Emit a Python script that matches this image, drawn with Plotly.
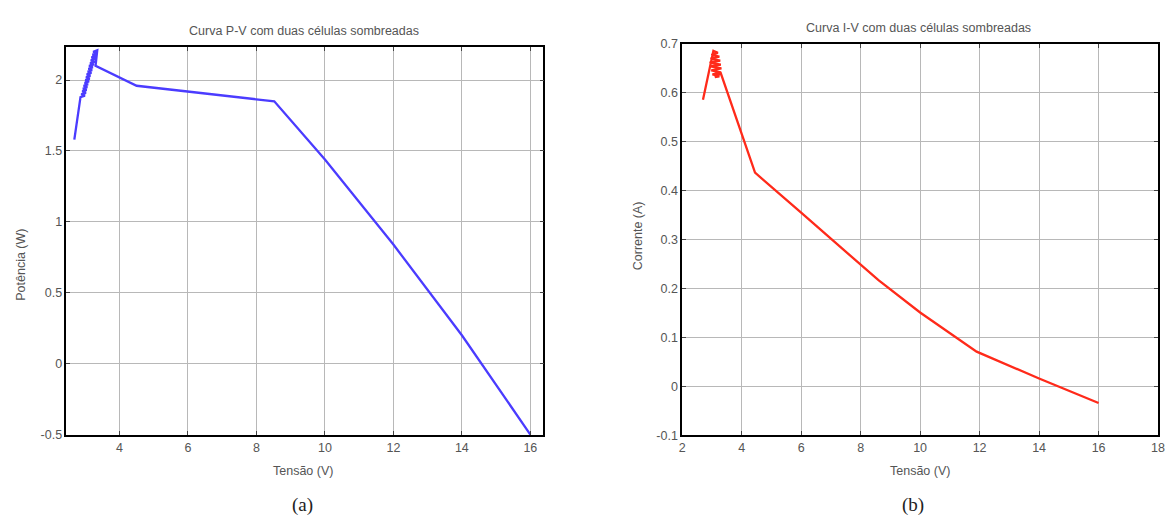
import plotly.graph_objects as go

# P-V curve (left)
pv_voltage = [2.68, 2.86, 2.99, 2.88, 3.02, 2.91, 3.04, 2.93, 3.06, 2.95, 3.08, 2.98, 3.11, 3.00, 3.13, 3.02, 3.15,
              3.04, 3.18, 3.07, 3.20, 3.09, 3.22, 3.11, 3.25, 3.14, 3.27, 3.16, 3.29, 3.18, 3.31, 3.21, 3.34, 3.23, 3.35, 3.30,
              4.50, 6.00, 8.52, 10.0, 12.0, 14.0, 16.0]
pv_power = [1.58, 1.88, 1.89, 1.90, 1.91, 1.92, 1.93, 1.94, 1.95, 1.96, 1.97, 1.98, 1.99, 2.00, 2.01, 2.02, 2.03,
            2.04, 2.05, 2.06, 2.07, 2.08, 2.09, 2.10, 2.11, 2.12, 2.13, 2.14, 2.15, 2.16, 2.17, 2.18, 2.19, 2.20, 2.21, 2.10,
            1.96, 1.92, 1.85, 1.44, 0.84, 0.20, -0.50]

# I-V curve (right)
iv_voltage = [2.70, 2.95, 3.05, 3.20, 2.98, 3.25, 2.95, 3.28, 2.92, 3.30, 2.95, 3.32, 2.98, 3.30, 3.02, 3.25, 3.10, 3.30,
              4.45, 6.00, 8.60, 10.0, 11.9, 14.0, 16.0]
iv_current = [0.586, 0.660, 0.686, 0.682, 0.678, 0.674, 0.670, 0.666, 0.662, 0.658, 0.654, 0.650, 0.646, 0.642, 0.638, 0.634, 0.632, 0.640,
              0.437, 0.355, 0.217, 0.151, 0.071, 0.016, -0.034]

pv_xticks = [4, 6, 8, 10, 12, 14, 16]
pv_yticks = [-0.5, 0, 0.5, 1, 1.5, 2]
pv_yticklabels = ["-0.5", "0", "0.5", "1", "1.5", "2"]
iv_xticks = [2, 4, 6, 8, 10, 12, 14, 16, 18]
iv_yticks = [-0.1, 0, 0.1, 0.2, 0.3, 0.4, 0.5, 0.6, 0.7]
iv_yticklabels = ["-0.1", "0", "0.1", "0.2", "0.3", "0.4", "0.5", "0.6", "0.7"]

W, H = 1173, 524
def px(x): return x / W
def py(y): return 1 - y / H

fig = go.Figure()
fig.add_trace(go.Scatter(x=pv_voltage, y=pv_power, mode="lines",
                         line=dict(color="#4b3cff", width=2.3), xaxis="x", yaxis="y", showlegend=False))
fig.add_trace(go.Scatter(x=iv_voltage, y=iv_current, mode="lines",
                         line=dict(color="#ff2a1a", width=2.3), xaxis="x2", yaxis="y2", showlegend=False))

tickfont = dict(family="Liberation Sans, Arial, sans-serif", size=12.5, color="#555555")
common = dict(showline=True, linecolor="black", linewidth=1.6, mirror="ticks", ticks="inside",
              ticklen=4, tickcolor="#444444", showgrid=True, gridcolor="#b8b8b8", gridwidth=1,
              zeroline=False, tickfont=tickfont)

fig.update_layout(
    width=W, height=H, margin=dict(l=0, r=0, t=0, b=0),
    paper_bgcolor="white", plot_bgcolor="white",
    xaxis=dict(domain=[px(64), px(545)], range=[2.45, 16.38], tickvals=pv_xticks, anchor="y", **common),
    yaxis=dict(domain=[py(440), py(41)], range=[-0.505, 2.234], tickvals=pv_yticks, ticktext=pv_yticklabels,
               anchor="x", **common),
    xaxis2=dict(domain=[px(685), px(1165)], range=[2, 18], tickvals=iv_xticks, anchor="y2", **common),
    yaxis2=dict(domain=[py(440), py(38)], range=[-0.1, 0.7], tickvals=iv_yticks, ticktext=iv_yticklabels,
                anchor="x2", **common),
)

lab = dict(family="Liberation Sans, Arial, sans-serif", size=12.5, color="#555555")
ann = [
    dict(text="Curva P-V com duas células sombreadas", x=px(304), y=py(25), font=lab),
    dict(text="Curva I-V com duas células sombreadas", x=px(923), y=py(22), font=lab),
    dict(text="Tensão (V)", x=px(303), y=py(477), font=lab),
    dict(text="Tensão (V)", x=px(925), y=py(477), font=lab),
    dict(text="Potência (W)", x=px(18), y=py(265), font=lab, textangle=-90),
    dict(text="Corrente (A)", x=px(640), y=py(235), font=lab, textangle=-90),
    dict(text="(a)", x=px(302), y=py(512), font=dict(family="Liberation Serif, Times New Roman, serif", size=19, color="#222222")),
    dict(text="(b)", x=px(918), y=py(512), font=dict(family="Liberation Serif, Times New Roman, serif", size=19, color="#222222")),
]
for a in ann:
    fig.add_annotation(xref="paper", yref="paper", showarrow=False, xanchor="center", yanchor="middle", **a)

fig.write_html("out.html")
